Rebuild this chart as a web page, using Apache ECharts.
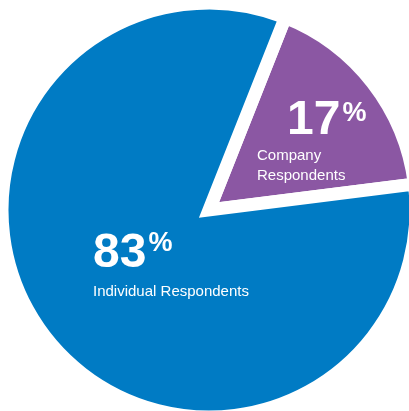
<!DOCTYPE html>
<html>
<head>
<meta charset="utf-8">
<script src="https://cdn.jsdelivr.net/npm/echarts@6/dist/echarts.min.js"></script>
<style>
html, body { margin: 0; padding: 0; background: #fff; }
#chart { width: 409px; height: 411px; }
</style>
</head>
<body>
<div id="chart"></div>
<script>
// data
var categories = ['Company Respondents', 'Individual Respondents'];
var shares = [17, 83];
var sliceColors = ['#8b57a3', '#007bc4'];
var labelLines = ['Company\nRespondents', 'Individual Respondents'];

var chart = echarts.init(document.getElementById('chart'));

// top-left corner of each label block
var labelPos = [[257, 96], [93, 226]];

var opt = {
  animation: false,
  series: [{
    type: 'pie',
    center: [209, 210],
    radius: 207,
    startAngle: 68.4,
    clockwise: true,
    silent: true,
    itemStyle: { borderColor: '#fff', borderWidth: 13, borderJoin: 'miter' },
    label: {
      show: true,
      position: 'inside',
      color: '#fff',
      fontFamily: 'Liberation Sans',
      formatter: function (p) {
        var big = p.dataIndex === 0 ? 'bigIn' : 'big';
        return '{' + big + '|' + p.value + '}{pct|%}\n{sub|' + labelLines[p.dataIndex] + '}';
      },
      rich: {
        big: { fontSize: 48, fontWeight: 'bold', lineHeight: 56, color: '#fff', fontFamily: 'Liberation Sans' },
        bigIn: { fontSize: 48, fontWeight: 'bold', lineHeight: 50, color: '#fff', fontFamily: 'Liberation Sans', padding: [0, 0, 0, 30] },
        pct: { fontSize: 27, fontWeight: 'bold', lineHeight: 27, verticalAlign: 'top', color: '#fff', fontFamily: 'Liberation Sans', padding: [4, 0, 0, 2] },
        sub: { fontSize: 15, lineHeight: 20, color: '#fff', fontFamily: 'Liberation Sans' }
      }
    },
    labelLine: { show: false },
    labelLayout: function (p) {
      var pos = labelPos[p.dataIndex];
      return { x: pos[0], y: pos[1], align: 'left', verticalAlign: 'top' };
    },
    data: categories.map(function (c, i) {
      return { name: c, value: shares[i], itemStyle: { color: sliceColors[i] } };
    })
  }]
};
chart.setOption(opt);
</script>
</body>
</html>
